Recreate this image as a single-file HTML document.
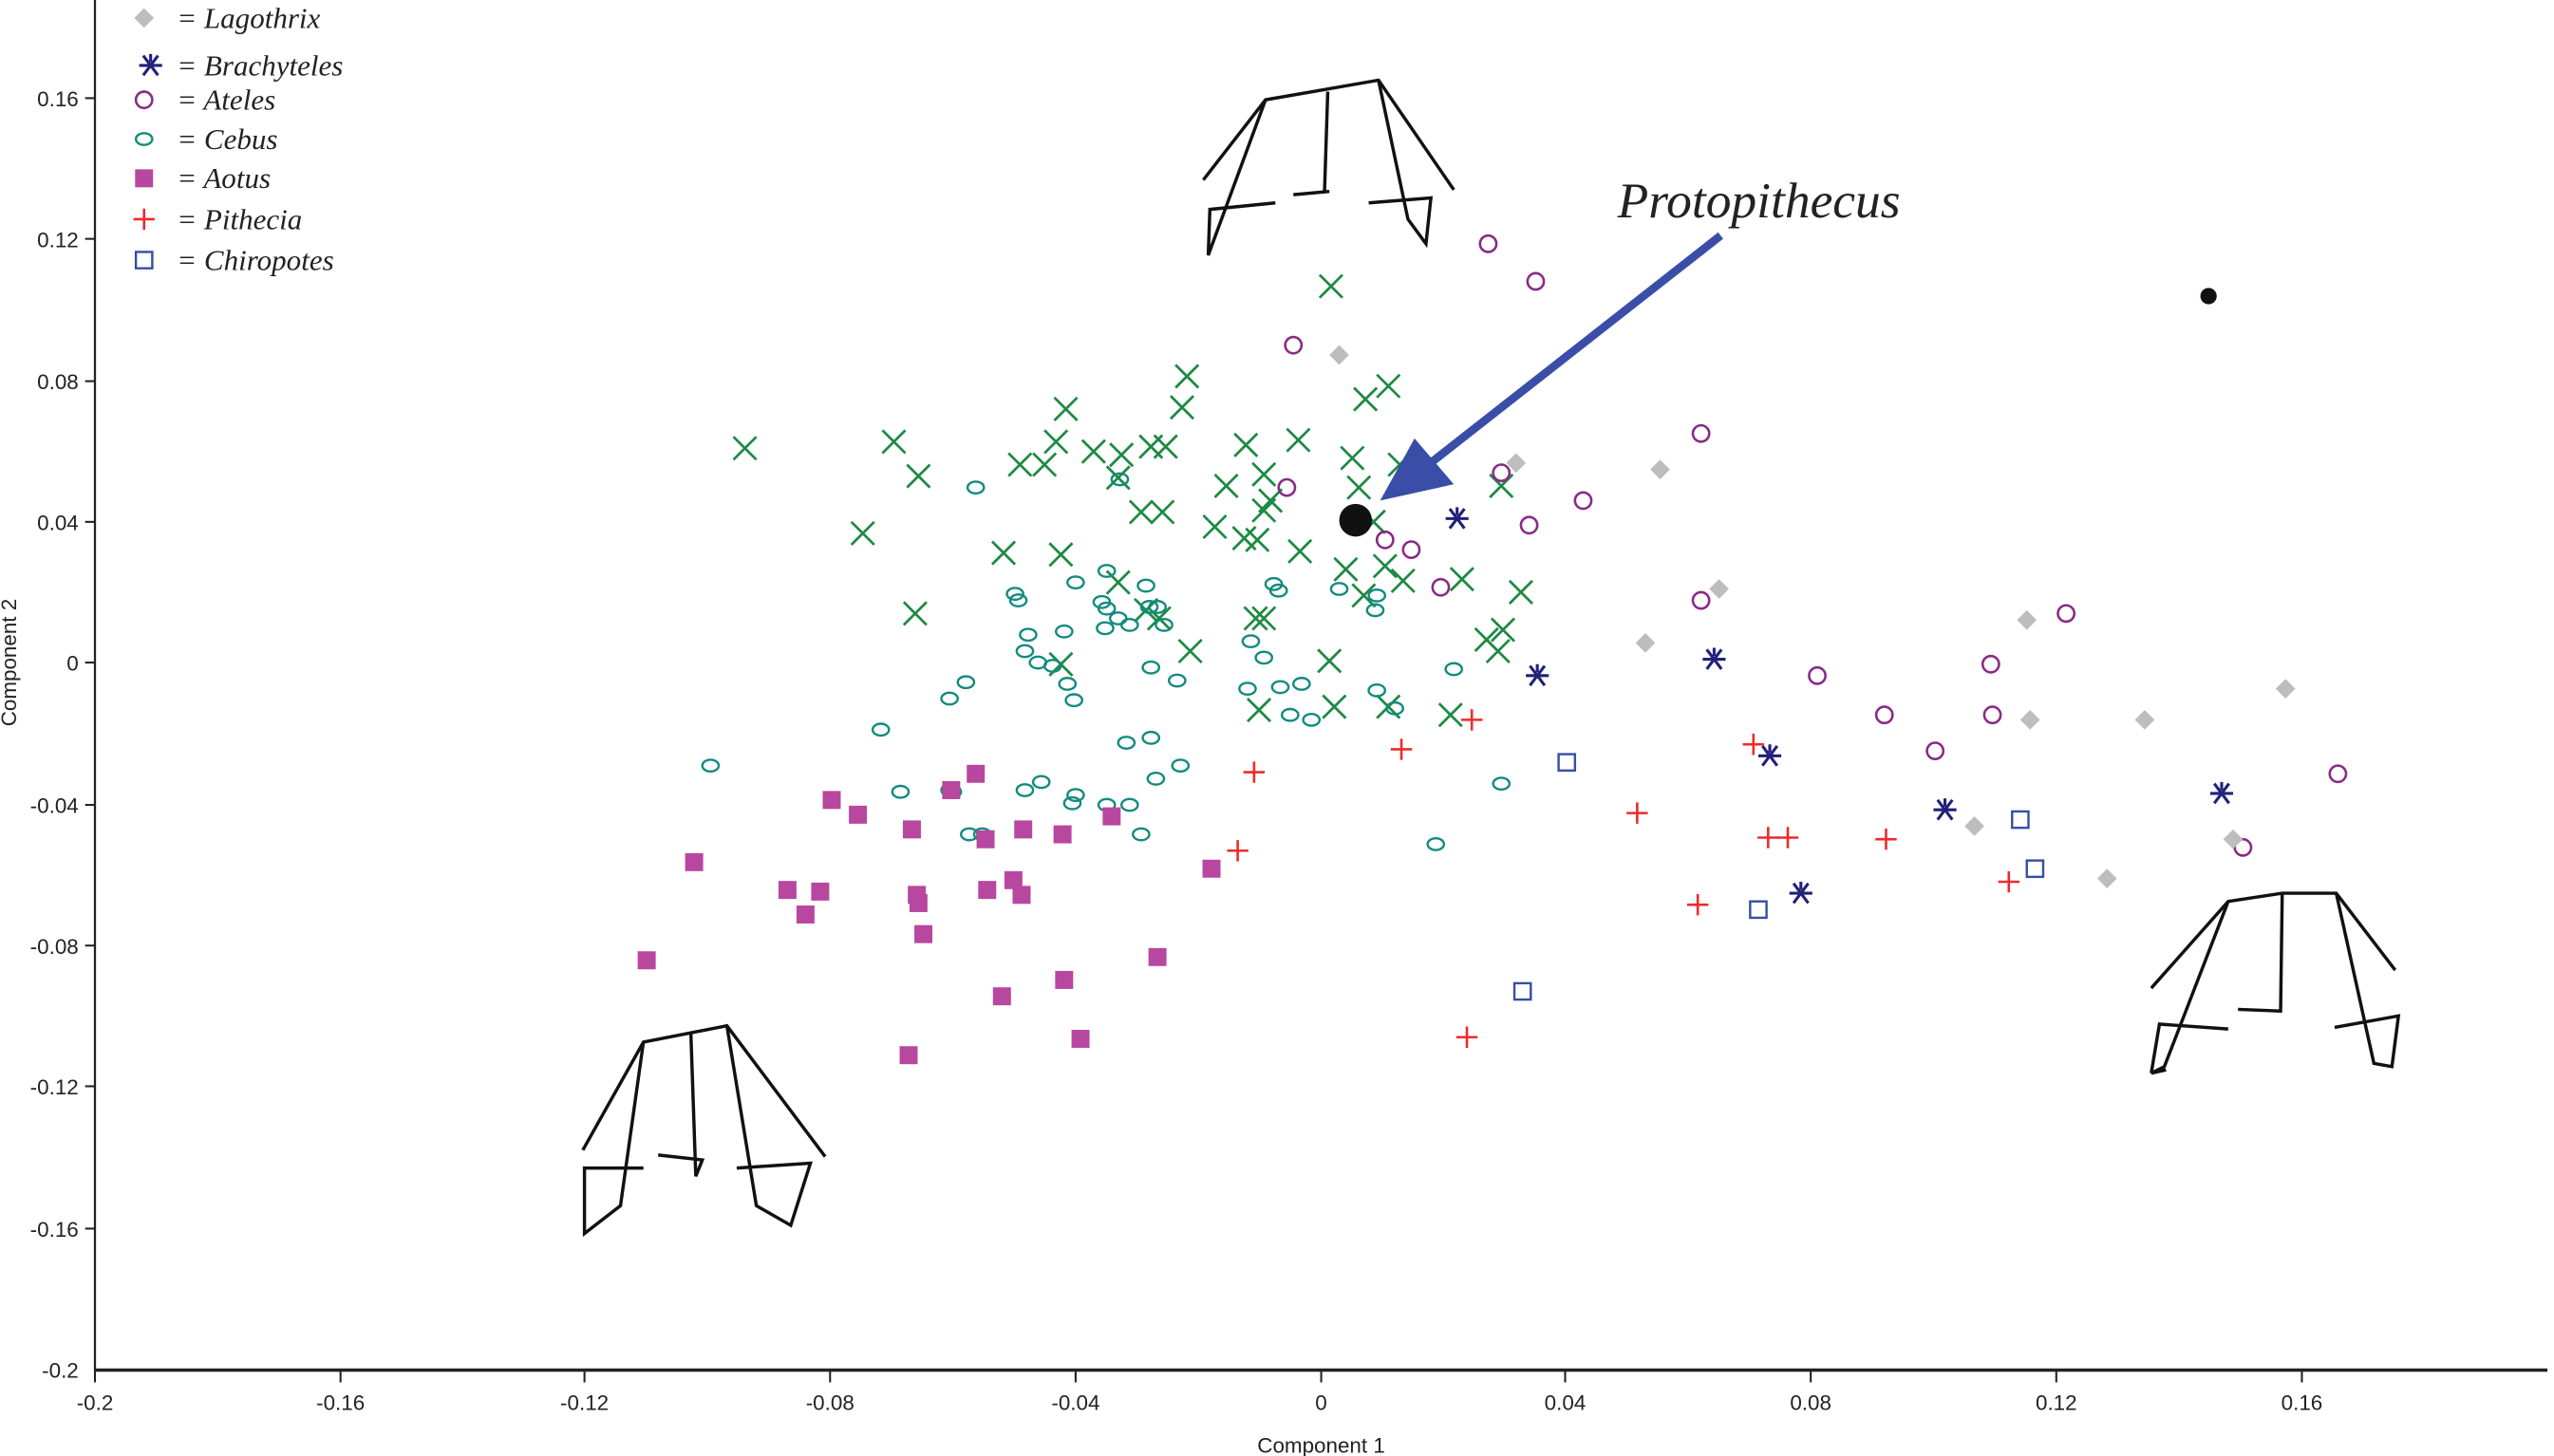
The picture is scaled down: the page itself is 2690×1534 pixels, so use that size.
<!DOCTYPE html>
<html><head><meta charset="utf-8"><style>
html,body{margin:0;padding:0;background:#fff;}
svg{display:block;}
</style></head><body>
<svg width="2690" height="1534" viewBox="0 0 1560 890" preserveAspectRatio="none" xmlns="http://www.w3.org/2000/svg">
<defs>
<path id="xm" d="M-7,-7L7,7M-7,7L7,-7" stroke="#1e8a43" stroke-width="1.6" fill="none"/>
<ellipse id="ce" rx="5" ry="3.6" stroke="#138a80" stroke-width="1.4" fill="none"/>
<circle id="at" r="5" stroke="#8a2a88" stroke-width="1.5" fill="none"/>
<path id="lg" d="M0,-6L6,0L0,6L-6,0Z" fill="#bdbdbd"/>
<path id="br" d="M-7,0L7,0M-4.5,-6L4.5,6M-4.5,6L4.5,-6M0,-7L0,-2" stroke="#22207a" stroke-width="1.8" fill="none"/>
<path id="pi" d="M-6.5,0L6.5,0M0,-6.5L0,6.5" stroke="#ee2a2a" stroke-width="1.5" fill="none"/>
<rect id="ch" x="-5" y="-5" width="10" height="10" stroke="#3450a5" stroke-width="1.4" fill="none"/>
<rect id="ao" x="-5.5" y="-5.5" width="11" height="11" fill="#b8479f"/>
</defs>
<g font-family="Liberation Sans, sans-serif" font-size="13" fill="#222">
<!-- axes -->
<line x1="58" y1="0" x2="58" y2="838" stroke="#222" stroke-width="1.3"/>
<line x1="58" y1="837.5" x2="1556" y2="837.5" stroke="#222" stroke-width="2"/>
<g stroke="#222" stroke-width="1.2">
<line x1="58" y1="838" x2="58" y2="845"/><line x1="208" y1="838" x2="208" y2="845"/><line x1="357" y1="838" x2="357" y2="845"/><line x1="507" y1="838" x2="507" y2="845"/><line x1="657" y1="838" x2="657" y2="845"/><line x1="807" y1="838" x2="807" y2="845"/><line x1="956" y1="838" x2="956" y2="845"/><line x1="1106" y1="838" x2="1106" y2="845"/><line x1="1256" y1="838" x2="1256" y2="845"/><line x1="1406" y1="838" x2="1406" y2="845"/>
<line x1="52" y1="60" x2="58" y2="60"/><line x1="52" y1="146" x2="58" y2="146"/><line x1="52" y1="233" x2="58" y2="233"/><line x1="52" y1="319" x2="58" y2="319"/><line x1="52" y1="405" x2="58" y2="405"/><line x1="52" y1="492" x2="58" y2="492"/><line x1="52" y1="578" x2="58" y2="578"/><line x1="52" y1="664" x2="58" y2="664"/><line x1="52" y1="751" x2="58" y2="751"/>
</g>
<g text-anchor="middle">
<text x="58" y="862">-0.2</text><text x="208" y="862">-0.16</text><text x="357" y="862">-0.12</text><text x="507" y="862">-0.08</text><text x="657" y="862">-0.04</text><text x="807" y="862">0</text><text x="956" y="862">0.04</text><text x="1106" y="862">0.08</text><text x="1256" y="862">0.12</text><text x="1406" y="862">0.16</text>
<text x="807" y="888">Component 1</text>
</g>
<g text-anchor="end">
<text x="48" y="65">0.16</text><text x="48" y="151">0.12</text><text x="48" y="238">0.08</text><text x="48" y="324">0.04</text><text x="48" y="410">0</text><text x="48" y="497">-0.04</text><text x="48" y="583">-0.08</text><text x="48" y="669">-0.12</text><text x="48" y="756">-0.16</text><text x="48" y="842">-0.2</text>
</g>
<text x="10" y="405" text-anchor="middle" transform="rotate(-90 10 405)">Component 2</text>
</g>
<!-- legend -->
<g font-family="Liberation Serif, serif" font-style="italic" font-size="18" fill="#222">
<use href="#lg" x="88" y="11"/><text x="108" y="17">= Lagothrix</text>
<use href="#br" x="92" y="40"/><text x="108" y="46">= Brachyteles</text>
<use href="#at" x="88" y="61"/><text x="108" y="67">= Ateles</text>
<use href="#ce" x="88" y="85"/><text x="108" y="91">= Cebus</text>
<use href="#ao" x="88" y="109"/><text x="108" y="115">= Aotus</text>
<use href="#pi" x="88" y="134"/><text x="108" y="140">= Pithecia</text>
<use href="#ch" x="88" y="159"/><text x="108" y="165">= Chiropotes</text>
</g>
<!-- skulls -->
<g stroke="#111" stroke-width="2" fill="none" stroke-linejoin="miter">
<polyline points="356,703 393,637 444,627 504,707"/>
<polyline points="393,637 379,737 357,754 357,714 393,714"/>
<polyline points="422,632 425,719 429,709 402,706"/>
<polyline points="444,627 462,737 483,749 495,711 450,714"/>
<polyline points="735,110 773,61 842,49 888,116"/>
<polyline points="773,61 738,156 739,128 779,124"/>
<line x1="811" y1="56" x2="809" y2="118"/><line x1="790" y1="119" x2="812" y2="117"/>
<polyline points="842,49 860,134 871,149 874,121 836,124"/>
<polyline points="1314,604 1361,551 1394,546 1427,546 1463,593"/>
<polyline points="1361,551 1322,652 1314,656 1314,656 1323,654"/>
<polyline points="1314,656 1319,626 1361,629"/>
<polyline points="1394,546 1393,618 1367,617"/>
<polyline points="1427,546 1450,650 1461,652 1465,621 1426,628"/>
</g>
<!-- X series -->
<g>
<use href="#xm" x="813" y="175"/><use href="#xm" x="455" y="274"/><use href="#xm" x="546" y="270"/><use href="#xm" x="561" y="291"/><use href="#xm" x="527" y="326"/><use href="#xm" x="559" y="375"/><use href="#xm" x="613" y="338"/><use href="#xm" x="623" y="284"/><use href="#xm" x="638" y="284"/><use href="#xm" x="651" y="250"/><use href="#xm" x="645" y="270"/><use href="#xm" x="668" y="276"/><use href="#xm" x="685" y="278"/><use href="#xm" x="683" y="292"/><use href="#xm" x="703" y="273"/><use href="#xm" x="712" y="273"/><use href="#xm" x="722" y="249"/><use href="#xm" x="725" y="230"/><use href="#xm" x="697" y="313"/><use href="#xm" x="710" y="313"/><use href="#xm" x="648" y="339"/><use href="#xm" x="683" y="356"/><use href="#xm" x="700" y="373"/><use href="#xm" x="708" y="378"/><use href="#xm" x="727" y="398"/><use href="#xm" x="648" y="406"/><use href="#xm" x="742" y="322"/><use href="#xm" x="749" y="297"/><use href="#xm" x="761" y="272"/><use href="#xm" x="760" y="329"/><use href="#xm" x="768" y="330"/><use href="#xm" x="772" y="312"/><use href="#xm" x="776" y="306"/><use href="#xm" x="772" y="290"/><use href="#xm" x="793" y="269"/><use href="#xm" x="794" y="337"/><use href="#xm" x="826" y="280"/><use href="#xm" x="834" y="244"/><use href="#xm" x="848" y="236"/><use href="#xm" x="830" y="298"/><use href="#xm" x="839" y="319"/><use href="#xm" x="822" y="348"/><use href="#xm" x="833" y="364"/><use href="#xm" x="846" y="346"/><use href="#xm" x="857" y="355"/><use href="#xm" x="893" y="354"/><use href="#xm" x="929" y="362"/><use href="#xm" x="917" y="297"/><use href="#xm" x="918" y="385"/><use href="#xm" x="915" y="398"/><use href="#xm" x="908" y="391"/><use href="#xm" x="812" y="404"/><use href="#xm" x="767" y="378"/><use href="#xm" x="772" y="378"/><use href="#xm" x="769" y="434"/><use href="#xm" x="815" y="432"/><use href="#xm" x="848" y="432"/><use href="#xm" x="886" y="437"/><use href="#xm" x="855" y="284"/>
</g>
<g>
<use href="#ce" x="596" y="298"/><use href="#ce" x="684" y="293"/><use href="#ce" x="657" y="356"/><use href="#ce" x="620" y="363"/><use href="#ce" x="622" y="367"/><use href="#ce" x="676" y="349"/><use href="#ce" x="673" y="368"/><use href="#ce" x="700" y="358"/><use href="#ce" x="683" y="378"/><use href="#ce" x="690" y="382"/><use href="#ce" x="702" y="371"/><use href="#ce" x="707" y="371"/><use href="#ce" x="711" y="382"/><use href="#ce" x="628" y="388"/><use href="#ce" x="650" y="386"/><use href="#ce" x="626" y="398"/><use href="#ce" x="634" y="405"/><use href="#ce" x="643" y="407"/><use href="#ce" x="652" y="418"/><use href="#ce" x="656" y="428"/><use href="#ce" x="675" y="384"/><use href="#ce" x="676" y="372"/><use href="#ce" x="703" y="408"/><use href="#ce" x="719" y="416"/><use href="#ce" x="590" y="417"/><use href="#ce" x="580" y="427"/><use href="#ce" x="538" y="446"/><use href="#ce" x="434" y="468"/><use href="#ce" x="600" y="510"/><use href="#ce" x="592" y="510"/><use href="#ce" x="582" y="484"/><use href="#ce" x="626" y="483"/><use href="#ce" x="636" y="478"/><use href="#ce" x="657" y="486"/><use href="#ce" x="688" y="454"/><use href="#ce" x="703" y="451"/><use href="#ce" x="721" y="468"/><use href="#ce" x="706" y="476"/><use href="#ce" x="676" y="492"/><use href="#ce" x="690" y="492"/><use href="#ce" x="697" y="510"/><use href="#ce" x="655" y="491"/><use href="#ce" x="550" y="484"/><use href="#ce" x="778" y="357"/><use href="#ce" x="781" y="361"/><use href="#ce" x="764" y="392"/><use href="#ce" x="772" y="402"/><use href="#ce" x="795" y="418"/><use href="#ce" x="782" y="420"/><use href="#ce" x="788" y="437"/><use href="#ce" x="801" y="440"/><use href="#ce" x="840" y="373"/><use href="#ce" x="841" y="364"/><use href="#ce" x="818" y="360"/><use href="#ce" x="841" y="422"/><use href="#ce" x="852" y="433"/><use href="#ce" x="762" y="421"/><use href="#ce" x="888" y="409"/><use href="#ce" x="877" y="516"/><use href="#ce" x="917" y="479"/><use href="#ce" x="580" y="483"/>
</g>
<g>
<use href="#at" x="909" y="149"/><use href="#at" x="938" y="172"/><use href="#at" x="790" y="211"/><use href="#at" x="786" y="298"/><use href="#at" x="917" y="289"/><use href="#at" x="934" y="321"/><use href="#at" x="967" y="306"/><use href="#at" x="1039" y="265"/><use href="#at" x="846" y="330"/><use href="#at" x="862" y="336"/><use href="#at" x="880" y="359"/><use href="#at" x="1039" y="367"/><use href="#at" x="1262" y="375"/><use href="#at" x="1216" y="406"/><use href="#at" x="1110" y="413"/><use href="#at" x="1151" y="437"/><use href="#at" x="1217" y="437"/><use href="#at" x="1182" y="459"/><use href="#at" x="1428" y="473"/><use href="#at" x="1370" y="518"/>
</g>
<g>
<use href="#lg" x="818" y="217"/><use href="#lg" x="926" y="283"/><use href="#lg" x="1014" y="287"/><use href="#lg" x="1050" y="360"/><use href="#lg" x="1005" y="393"/><use href="#lg" x="1238" y="379"/><use href="#lg" x="1240" y="440"/><use href="#lg" x="1310" y="440"/><use href="#lg" x="1396" y="421"/><use href="#lg" x="1206" y="505"/><use href="#lg" x="1287" y="537"/><use href="#lg" x="1364" y="513"/>
</g>
<g>
<use href="#br" x="890" y="317"/><use href="#br" x="939" y="413"/><use href="#br" x="1047" y="403"/><use href="#br" x="1081" y="462"/><use href="#br" x="1188" y="495"/><use href="#br" x="1100" y="546"/><use href="#br" x="1357" y="485"/>
</g>
<g>
<use href="#pi" x="899" y="440"/><use href="#pi" x="856" y="458"/><use href="#pi" x="766" y="472"/><use href="#pi" x="756" y="520"/><use href="#pi" x="1000" y="497"/><use href="#pi" x="1071" y="455"/><use href="#pi" x="1080" y="512"/><use href="#pi" x="1092" y="512"/><use href="#pi" x="1152" y="513"/><use href="#pi" x="1227" y="539"/><use href="#pi" x="1037" y="553"/><use href="#pi" x="896" y="634"/>
</g>
<g>
<use href="#ch" x="957" y="466"/><use href="#ch" x="1234" y="501"/><use href="#ch" x="1243" y="531"/><use href="#ch" x="1074" y="556"/><use href="#ch" x="930" y="606"/>
</g>
<g>
<use href="#ao" x="424" y="527"/><use href="#ao" x="395" y="587"/><use href="#ao" x="481" y="544"/><use href="#ao" x="501" y="545"/><use href="#ao" x="492" y="559"/><use href="#ao" x="508" y="489"/><use href="#ao" x="524" y="498"/><use href="#ao" x="581" y="483"/><use href="#ao" x="596" y="473"/><use href="#ao" x="557" y="507"/><use href="#ao" x="560" y="547"/><use href="#ao" x="561" y="552"/><use href="#ao" x="564" y="571"/><use href="#ao" x="602" y="513"/><use href="#ao" x="603" y="544"/><use href="#ao" x="625" y="507"/><use href="#ao" x="619" y="538"/><use href="#ao" x="624" y="547"/><use href="#ao" x="649" y="510"/><use href="#ao" x="679" y="499"/><use href="#ao" x="612" y="609"/><use href="#ao" x="650" y="599"/><use href="#ao" x="660" y="635"/><use href="#ao" x="555" y="645"/><use href="#ao" x="707" y="585"/><use href="#ao" x="740" y="531"/>
</g>
<!-- protopithecus -->
<ellipse cx="828" cy="318" rx="10" ry="10" fill="#111"/>
<circle cx="1349" cy="181" r="5" fill="#111"/>
<line x1="1051" y1="144" x2="870" y2="286" stroke="#3a4ea8" stroke-width="5"/>
<polygon points="843,306 864,268 888,296" fill="#3a4ea8"/>
<text x="988" y="133" font-family="Liberation Serif, serif" font-style="italic" font-size="31" fill="#222">Protopithecus</text>
</svg>
</body></html>
